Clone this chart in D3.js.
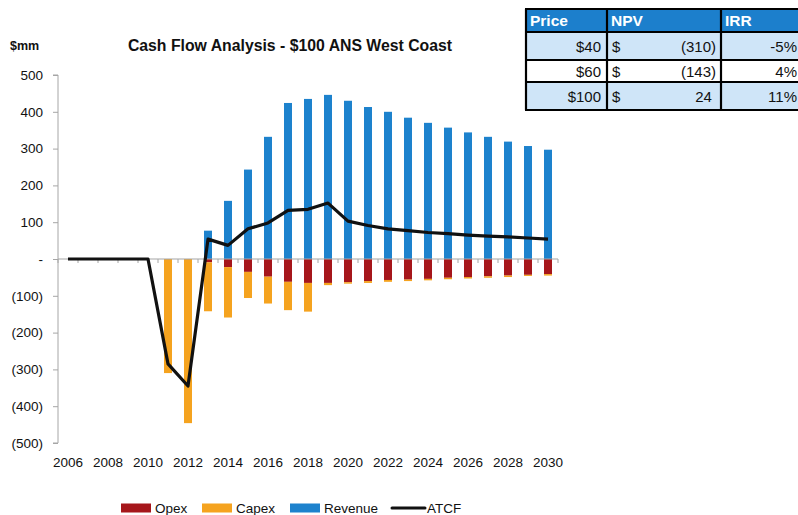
<!DOCTYPE html>
<html>
<head>
<meta charset="utf-8">
<script src="https://cdn.jsdelivr.net/npm/d3@7"></script>
<style>
  body { margin: 0; background: #fff; }
  svg { font-family: "Liberation Sans", Arial, sans-serif; }
</style>
</head>
<body>
<svg id="chart" width="798" height="515"></svg>
<script>
// data ($mm)
var years = ["2006","2007","2008","2009","2010","2011","2012","2013","2014","2015","2016","2017","2018",
             "2019","2020","2021","2022","2023","2024","2025","2026","2027","2028","2029","2030"];
var revenue = [0,0,0,0,0,0,0,77,158,243,332,424,435,446,430,413,400,384,370,357,344,332,319,307,297];
var opex    = [0,0,0,0,0,0,0,-9,-22,-35,-48,-62,-65,-65,-63,-60,-57,-56,-54,-51,-49,-47,-45,-43,-41];
var capex   = [0,0,0,0,0,-310,-446,-133,-137,-71,-73,-77,-78,-6,-4,-5,-5,-4,-4,-4,-4,-4,-4,-3,-4];
var atcf    = [0,0,0,0,0,-285,-345,54,37,82,98,132,135,152,103,91,82,77,72,69,65,62,60,57,54];
var yTicks  = [-500,-400,-300,-200,-100,0,100,200,300,400,500];
var xLabels = ["2006","2008","2010","2012","2014","2016","2018","2020","2022","2024","2026","2028","2030"];

var tableHead  = ["Price", "NPV", "IRR"];
var tablePrice = ["$40", "$60", "$100"];
var tableNpv   = [-310, -143, 24];
var tableIrr   = ["-5%", "4%", "11%"];

var colors = { opex: "#a6161b", capex: "#f5a31f", revenue: "#1d82cd", atcf: "#111111" };

var svg = d3.select("#chart");
var x0 = 58, x1 = 558, yTop = 75, yBot = 443;

var x = d3.scaleBand().domain(years).range([x0, x1]).paddingInner(0.6).paddingOuter(0.3);
var y = d3.scaleLinear().domain([-500, 500]).range([yBot, yTop]);

var rows = years.map(function (yr, i) {
    return { year: yr, opex: opex[i], capex: capex[i], revenue: revenue[i] };
});
var series = d3.stack().keys(["opex", "capex", "revenue"]).offset(d3.stackOffsetDiverging)(rows);

svg.append("g").selectAll("g")
    .data(series)
    .join("g")
    .attr("fill", function (d) { return colors[d.key]; })
    .selectAll("rect")
    .data(function (d) { return d; })
    .join("rect")
    .attr("x", function (d) { return x(d.data.year); })
    .attr("width", x.bandwidth())
    .attr("y", function (d) { return y(Math.max(d[0], d[1])); })
    .attr("height", function (d) { return Math.abs(y(d[0]) - y(d[1])); });

// y axis
var yAxis = svg.append("g")
    .attr("transform", "translate(" + x0 + ",0)")
    .call(d3.axisLeft(y).tickValues(yTicks).tickSize(5).tickPadding(10)
        .tickFormat(function (d) { return d === 0 ? "-" : d < 0 ? "(" + (-d) + ")" : d; }));
yAxis.selectAll("path, line").attr("stroke", "#a6a6a6");
yAxis.select(".domain").attr("d", "M-5," + yTop + "H0V" + yBot + "H-5");
yAxis.selectAll("text").attr("font-size", "13.5px").attr("fill", "#111");

// x axis on the zero line, ticks at band edges
var zx = svg.append("g");
zx.append("line").attr("x1", x0).attr("x2", x1).attr("y1", y(0)).attr("y2", y(0))
    .attr("stroke", "#a6a6a6").attr("stroke-width", 1.2);
var step = x.step();
zx.selectAll("line.tk")
    .data(years.concat(["end"]))
    .join("line")
    .attr("class", "tk")
    .attr("x1", function (d, i) { return x0 + i * step; })
    .attr("x2", function (d, i) { return x0 + i * step; })
    .attr("y1", y(0)).attr("y2", y(0) + 4)
    .attr("stroke", "#a6a6a6");

svg.append("g").selectAll("text")
    .data(xLabels)
    .join("text")
    .attr("x", function (d) { return x(d) + x.bandwidth() / 2; })
    .attr("y", 467)
    .attr("text-anchor", "middle")
    .attr("font-size", "13.5px")
    .attr("fill", "#111")
    .text(function (d) { return d; });

// ATCF line
var line = d3.line()
    .x(function (d, i) { return x(years[i]) + x.bandwidth() / 2; })
    .y(function (d) { return y(d); });
svg.append("path")
    .datum(atcf)
    .attr("d", line)
    .attr("fill", "none")
    .attr("stroke", colors.atcf)
    .attr("stroke-width", 3.2)
    .attr("stroke-linejoin", "round");

// titles
svg.append("text").attr("x", 290).attr("y", 51).attr("text-anchor", "middle")
    .attr("font-size", "15.8px").attr("font-weight", "bold").attr("fill", "#111")
    .text("Cash Flow Analysis - $100 ANS West Coast");
svg.append("text").attr("x", 10).attr("y", 50)
    .attr("font-size", "12.5px").attr("font-weight", "bold").attr("fill", "#111")
    .text("$mm");

// legend
var legend = [
    { name: "Opex", key: "opex", x: 121, type: "box" },
    { name: "Capex", key: "capex", x: 202, type: "box" },
    { name: "Revenue", key: "revenue", x: 290, type: "box" },
    { name: "ATCF", key: "atcf", x: 392, type: "line" }
];
var lg = svg.append("g").selectAll("g").data(legend).join("g")
    .attr("transform", function (d) { return "translate(" + d.x + ",508)"; });
lg.filter(function (d) { return d.type === "box"; }).append("rect")
    .attr("x", 0).attr("y", -4.5).attr("width", 30).attr("height", 9)
    .attr("fill", function (d) { return colors[d.key]; });
lg.filter(function (d) { return d.type === "line"; }).append("line")
    .attr("x1", 0).attr("x2", 33).attr("y1", 0).attr("y2", 0)
    .attr("stroke", colors.atcf).attr("stroke-width", 3).attr("stroke-linecap", "round");
lg.append("text")
    .attr("x", function (d) { return d.type === "line" ? 35 : 34; })
    .attr("y", 5)
    .attr("font-size", "13.5px").attr("fill", "#111")
    .text(function (d) { return d.name; });

// NPV / IRR table
var tx = [526, 607, 721, 802];
var ty = [9, 32, 60, 82, 110];
var tbl = svg.append("g");
tbl.append("rect").attr("x", tx[0]).attr("y", ty[0]).attr("width", tx[3] - tx[0]).attr("height", ty[1] - ty[0])
    .attr("fill", "#1c7fcc");
tablePrice.forEach(function (p, i) {
    tbl.append("rect").attr("x", tx[0]).attr("y", ty[i + 1]).attr("width", tx[3] - tx[0])
        .attr("height", ty[i + 2] - ty[i + 1]).attr("fill", i === 1 ? "#ffffff" : "#cfe5f8");
});
tbl.selectAll("text.h").data(tableHead).join("text")
    .attr("x", function (d, i) { return tx[i] + 4; })
    .attr("y", (ty[0] + ty[1]) / 2 + 5.5)
    .attr("font-size", "15.5px").attr("font-weight", "bold").attr("fill", "#fff")
    .text(function (d) { return d; });
var fmtNpv = function (v) { return v < 0 ? "(" + (-v) + ")" : v + " "; };
tablePrice.forEach(function (p, i) {
    var cy = (ty[i + 1] + ty[i + 2]) / 2 + 5.5;
    tbl.append("text").attr("x", tx[1] - 6).attr("y", cy).attr("text-anchor", "end")
        .attr("font-size", "15px").attr("fill", "#111").text(p);
    tbl.append("text").attr("x", tx[1] + 5).attr("y", cy)
        .attr("font-size", "15px").attr("fill", "#111").text("$");
    tbl.append("text").attr("x", tx[2] - 5).attr("y", cy).attr("text-anchor", "end")
        .attr("font-size", "15px").attr("fill", "#111").attr("xml:space", "preserve").text(fmtNpv(tableNpv[i]));
    tbl.append("text").attr("x", 797).attr("y", cy).attr("text-anchor", "end")
        .attr("font-size", "15px").attr("fill", "#111").text(tableIrr[i]);
});
// grid lines of the table
ty.forEach(function (yy) {
    tbl.append("line").attr("x1", tx[0] - 1).attr("x2", tx[3]).attr("y1", yy).attr("y2", yy)
        .attr("stroke", "#000").attr("stroke-width", 2.2);
});
tx.slice(0, 3).forEach(function (xx) {
    tbl.append("line").attr("x1", xx).attr("x2", xx).attr("y1", ty[0]).attr("y2", ty[4])
        .attr("stroke", "#000").attr("stroke-width", 2.2);
});
</script>
</body>
</html>
